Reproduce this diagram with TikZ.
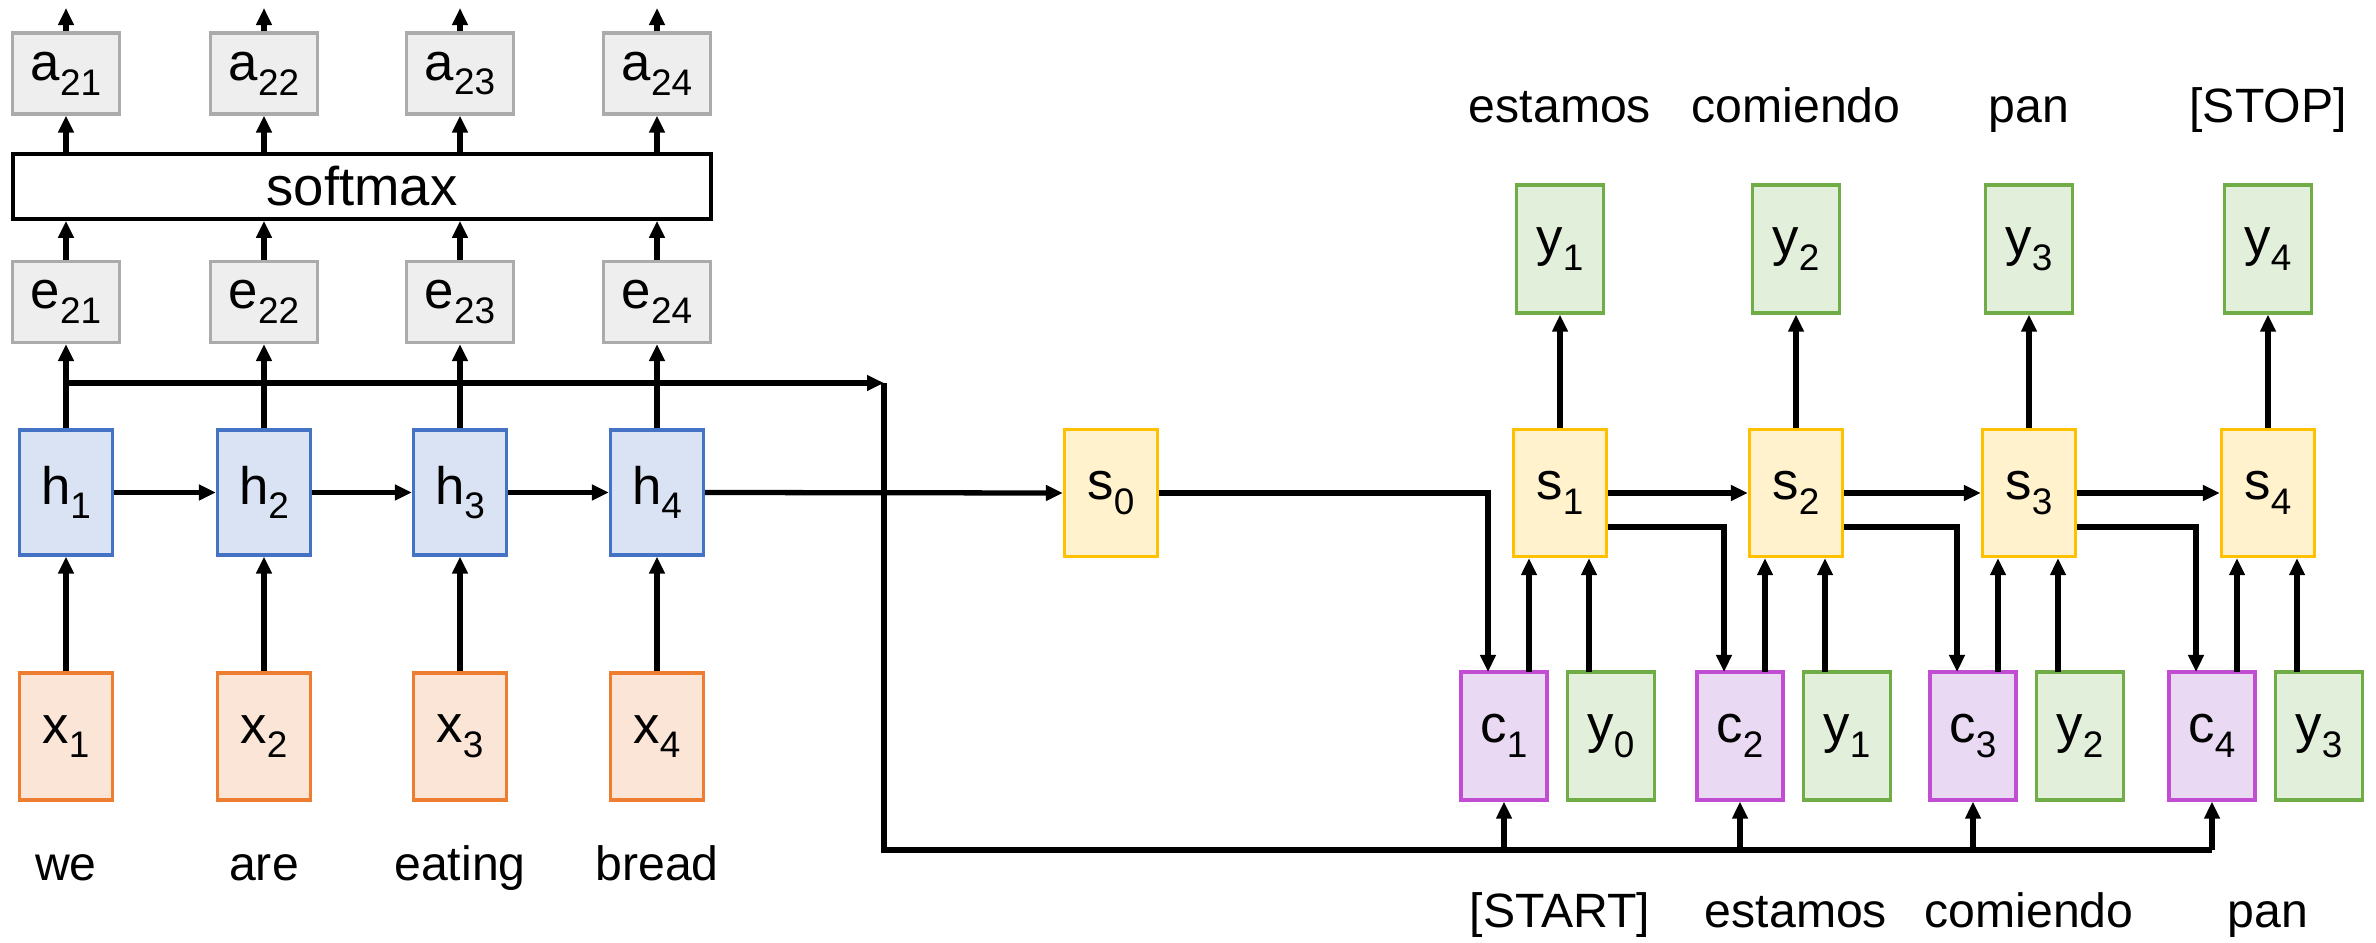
\documentclass[tikz,border=0pt]{standalone}
\usepackage{fontspec}
\setmainfont{Liberation Sans}
\usetikzlibrary{arrows.meta}
\definecolor{gfill}{HTML}{EEEEEE}
\definecolor{gdraw}{HTML}{ABABAB}
\definecolor{hfill}{HTML}{DAE3F3}
\definecolor{hdraw}{HTML}{4472C4}
\definecolor{xfill}{HTML}{FBE5D6}
\definecolor{xdraw}{HTML}{ED7D31}
\definecolor{sfill}{HTML}{FFF2CC}
\definecolor{sdraw}{HTML}{FFC000}
\definecolor{yfill}{HTML}{E2EFDA}
\definecolor{ydraw}{HTML}{70AD47}
\definecolor{cfill}{HTML}{E9D9F2}
\definecolor{cdraw}{HTML}{C04DD2}
\newcommand{\boxlbl}[2]{#1\raisebox{-0.28em}{\fontsize{10.5}{12}\selectfont #2}}
\begin{document}
\begin{tikzpicture}[x=0.01cm,y=-0.01cm,
  bx/.style={line width=0.9pt, inner sep=0pt, font=\fontsize{15}{18}\selectfont},
  gbox/.style={bx, fill=gfill, draw=gdraw, minimum width=1.07cm, minimum height=0.81cm},
  hbox/.style={bx, fill=hfill, draw=hdraw, minimum width=0.93cm, minimum height=1.25cm},
  xbox/.style={bx, fill=xfill, draw=xdraw, minimum width=0.93cm, minimum height=1.27cm},
  sbox/.style={bx, fill=sfill, draw=sdraw, minimum width=0.93cm, minimum height=1.27cm},
  ybox/.style={bx, fill=yfill, draw=ydraw, minimum width=0.87cm, minimum height=1.28cm},
  cbox/.style={bx, fill=cfill, draw=cdraw, minimum width=0.86cm, minimum height=1.28cm},
  word/.style={font=\fontsize{13.7}{16}\selectfont, inner sep=0pt, anchor=base},
  ln/.style={line width=1.5pt},
  arr/.style={ln, -{Triangle[length=0.17cm,width=0.15cm]}}]
\useasboundingbox (0,0) rectangle (2376,943);

% encoder
\node[draw, line width=1pt, fill=white, minimum width=6.98cm, minimum height=0.65cm, inner sep=0pt,
  font=\fontsize{15.5}{18}\selectfont] (sm) at (362,186.5) {softmax};
\foreach \i/\X/\w in {1/66/we,2/264/are,3/460/eating,4/657/bread} {
  \node[gbox] (a\i) at (\X,73.5) {\boxlbl{a}{2\i}};
  \node[gbox] (e\i) at (\X,302) {\boxlbl{e}{2\i}};
  \node[hbox] (h\i) at (\X,492.5) {\boxlbl{h}{\i}};
  \node[xbox] (x\i) at (\X,736.5) {\boxlbl{x}{\i}};
  \node[word] (w\i) at (\X,880) {\w};
  \coordinate (top\i) at (\X,8);
  \draw[arr] (a\i.north) -- (top\i);
  \draw[arr] (a\i.south |- sm.north) -- (a\i.south);
  \draw[arr] (e\i.north) -- (e\i.north |- sm.south);
  \draw[arr] (h\i.north) -- (e\i.south);
  \draw[arr] (x\i.north) -- (h\i.south);
}
\draw[arr] (h1.east) -- (h2.west);
\draw[arr] (h2.east) -- (h3.west);
\draw[arr] (h3.east) -- (h4.west);

% decoder
\node[sbox] (s0) at (1111,493) {\boxlbl{s}{0}};
\coordinate (lowY) at (0,527);
\foreach \k/\S/\tl/\bl in {1/1560/estamos/{[START]},2/1796/comiendo/estamos,3/2029/pan/comiendo,4/2268/{[STOP]}/pan} {
  \pgfmathtruncatemacro\pk{\k-1}
  \node[sbox] (s\k) at (\S,493) {\boxlbl{s}{\k}};
  \node[ybox] (yt\k) at (\S,249) {\boxlbl{y}{\k}};
  \node[cbox] (c\k) at (\S-56,736) {\boxlbl{c}{\k}};
  \node[ybox] (yb\k) at (\S+51,736) {\boxlbl{y}{\pk}};
  \node[word] (tl\k) at (\S,123) {\tl};
  \node[word] (bl\k) at (\S,927) {\bl};
  \coordinate (cin\k) at (\S-72,672);
  \coordinate (cout\k) at (\S-31,672);
  \coordinate (yout\k) at (\S+29,672);
  \draw[arr] (cout\k) -- (cout\k |- s\k.south);
  \draw[arr] (yout\k) -- (yout\k |- s\k.south);
  \draw[arr] (s\k.north) -- (yt\k.south);
}
\draw[arr] (s1.east) -- (s2.west);
\draw[arr] (s2.east) -- (s3.west);
\draw[arr] (s3.east) -- (s4.west);
\draw[arr] (s0.east) -| (cin1);
\draw[arr] (s1.east |- lowY) -| (cin2);
\draw[arr] (s2.east |- lowY) -| (cin3);
\draw[arr] (s3.east |- lowY) -| (cin4);

% attention routing
\coordinate (corner) at (884,383);
\coordinate (busL) at (884,850);
\draw[arr] (h1.north |- corner) -- (corner);
\draw[ln] (corner) -- (busL) -- (c4.south |- busL);
\foreach \k in {1,2,3,4} {
  \draw[arr] (c\k.south |- busL) -- (c\k.south);
}
\draw[arr] (h4.east) -- (s0.west);
\end{tikzpicture}
\end{document}
